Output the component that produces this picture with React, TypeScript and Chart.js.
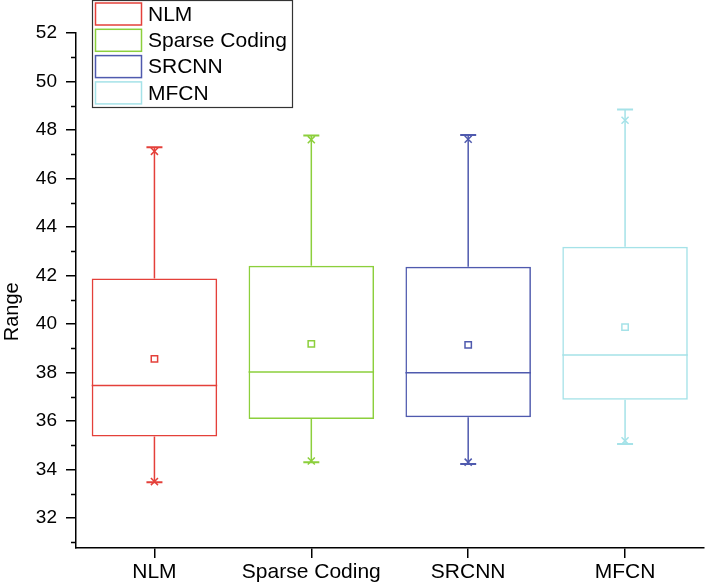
import React, { useEffect, useRef } from "react";
import { Chart, registerables } from "chart.js";

Chart.register(...registerables);

const categories = ["NLM", "Sparse Coding", "SRCNN", "MFCN"];
const colors = ["#e4403a", "#8ccf3c", "#4f5aae", "#a5e2e8"];
const whiskerLow = [33.47, 34.3, 34.22, 35.05];
const q1 = [35.36, 36.08, 36.15, 36.87];
const median = [37.46, 38.02, 37.99, 38.72];
const q3 = [41.87, 42.4, 42.36, 43.18];
const whiskerHigh = [47.29, 47.77, 47.79, 48.85];
const mean = [38.56, 39.18, 39.14, 39.87];
const minMarker = [33.5, 34.35, 34.3, 35.18];
const maxMarker = [47.12, 47.6, 47.62, 48.4];
const yTickValues = [32, 34, 36, 38, 40, 42, 44, 46, 48, 50, 52];
const yMinorValues = [31, 33, 35, 37, 39, 41, 43, 45, 47, 49, 51];
const yTitle = "Range";

const FONT = "'Liberation Sans', Arial, sans-serif";

const boxPlugin = {
  id: "boxExtras",
  afterDatasetsDraw(chart: any) {
    const ctx = chart.ctx;
    const x = chart.scales.x;
    const y = chart.scales.y;
    const meta = chart.getDatasetMeta(0);
    ctx.save();
    categories.forEach((_, i) => {
      const cx = x.getPixelForValue(i);
      const bar = meta.data[i] as any;
      const half = bar ? bar.width / 2 : 60;
      ctx.strokeStyle = colors[i];
      ctx.lineWidth = 1.5;
      ctx.beginPath();
      const my = y.getPixelForValue(median[i]);
      ctx.moveTo(cx - half, my);
      ctx.lineTo(cx + half, my);
      ctx.moveTo(cx, y.getPixelForValue(q3[i]));
      ctx.lineTo(cx, y.getPixelForValue(whiskerHigh[i]));
      ctx.moveTo(cx, y.getPixelForValue(q1[i]));
      ctx.lineTo(cx, y.getPixelForValue(whiskerLow[i]));
      ctx.stroke();
      ctx.lineWidth = 2;
      ctx.beginPath();
      const hy = y.getPixelForValue(whiskerHigh[i]);
      const ly = y.getPixelForValue(whiskerLow[i]);
      ctx.moveTo(cx - 8, hy);
      ctx.lineTo(cx + 8, hy);
      ctx.moveTo(cx - 8, ly);
      ctx.lineTo(cx + 8, ly);
      ctx.stroke();
    });
    ctx.restore();
  },
  afterDraw(chart: any) {
    const ctx = chart.ctx;
    const y = chart.scales.y;
    const left = chart.chartArea.left;
    ctx.save();
    // minor ticks
    ctx.strokeStyle = "#000";
    ctx.lineWidth = 1.5;
    ctx.beginPath();
    yMinorValues.forEach((v) => {
      if (v < y.min || v > y.max) return;
      const py = Math.round(y.getPixelForValue(v)) + 0.5;
      ctx.moveTo(left - 5, py);
      ctx.lineTo(left, py);
    });
    ctx.stroke();
    // y axis title
    ctx.save();
    ctx.translate(12, y.getPixelForValue(40.5));
    ctx.rotate(-Math.PI / 2);
    ctx.fillStyle = "#000";
    ctx.font = `20px ${FONT}`;
    ctx.textAlign = "center";
    ctx.textBaseline = "middle";
    ctx.fillText(yTitle, 0, 0);
    ctx.restore();
    // legend
    const lx = 92;
    const ly = 0;
    const lw = 200;
    const lh = 107;
    ctx.fillStyle = "#fff";
    ctx.fillRect(lx, ly, lw, lh);
    ctx.strokeStyle = "#333";
    ctx.lineWidth = 1.2;
    ctx.strokeRect(lx + 0.5, ly + 0.5, lw, lh);
    ctx.font = `21px ${FONT}`;
    ctx.textBaseline = "middle";
    ctx.textAlign = "left";
    categories.forEach((name, i) => {
      const top = 3 + i * 26.3;
      ctx.strokeStyle = colors[i];
      ctx.lineWidth = 1.5;
      ctx.strokeRect(95.5, top, 46, 22);
      ctx.fillStyle = "#000";
      ctx.fillText(name, 148, top + 12);
    });
    ctx.restore();
  },
};

export default function App() {
  const ref = useRef<HTMLCanvasElement | null>(null);
  useEffect(() => {
    document.body.style.margin = "0";
    const canvas = ref.current!;
    const chart = new Chart(canvas, {
      type: "bar",
      data: {
        labels: categories,
        datasets: [
          {
            type: "bar",
            label: "box",
            data: categories.map((_, i) => [q1[i], q3[i]]) as any,
            backgroundColor: "rgba(0,0,0,0)",
            borderColor: colors,
            borderWidth: 1.5,
            borderSkipped: false,
            barPercentage: 0.8,
            categoryPercentage: 1,
            order: 3,
          } as any,
          {
            type: "line",
            label: "mean",
            data: mean,
            showLine: false,
            pointStyle: "rect",
            pointRadius: 4.5,
            pointBorderWidth: 1.5,
            pointBorderColor: colors,
            pointBackgroundColor: "rgba(255,255,255,0)",
            order: 1,
          } as any,
          {
            type: "line",
            label: "min",
            data: minMarker,
            showLine: false,
            pointStyle: "crossRot",
            pointRadius: 5,
            pointBorderWidth: 1.5,
            pointBorderColor: colors,
            order: 1,
          } as any,
          {
            type: "line",
            label: "max",
            data: maxMarker,
            showLine: false,
            pointStyle: "crossRot",
            pointRadius: 5,
            pointBorderWidth: 1.5,
            pointBorderColor: colors,
            order: 1,
          } as any,
        ],
      },
      options: {
        responsive: false,
        maintainAspectRatio: false,
        animation: false,
        layout: { padding: { top: 33, right: 2, left: 0, bottom: 0 } },
        plugins: {
          legend: { display: false },
          tooltip: { enabled: false },
        },
        scales: {
          x: {
            type: "category",
            offset: true,
            grid: {
              offset: false,
              drawOnChartArea: false,
              drawTicks: true,
              tickLength: 10,
              color: "#000",
              lineWidth: 1.5,
            },
            border: { display: true, color: "#000", width: 1.5 },
            ticks: {
              color: "#000",
              font: { family: FONT, size: 21 },
              padding: 2,
              maxRotation: 0,
              autoSkip: false,
            },
            afterFit: (s: any) => {
              s.height = 37;
            },
          },
          y: {
            type: "linear",
            min: 30.76,
            max: 52,
            afterBuildTicks: (s: any) => {
              s.ticks = yTickValues.map((v) => ({ value: v }));
            },
            grid: {
              drawOnChartArea: false,
              drawTicks: true,
              tickLength: 10,
              color: "#000",
              lineWidth: 1.5,
            },
            border: { display: true, color: "#000", width: 1.5 },
            ticks: {
              color: "#000",
              font: { family: FONT, size: 19 },
              padding: 9,
            },
            afterFit: (s: any) => {
              s.width = 76;
            },
          },
        },
      } as any,
      plugins: [boxPlugin],
    });
    return () => chart.destroy();
  }, []);
  return (
    <div style={{ width: 710, height: 585, position: "relative" }}>
      <canvas ref={ref} width={710} height={585} style={{ display: "block" }} />
    </div>
  );
}
